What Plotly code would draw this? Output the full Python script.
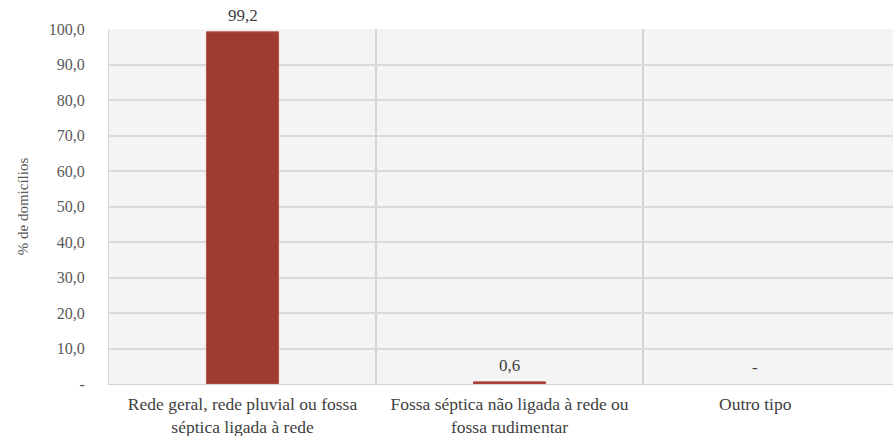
import plotly.graph_objects as go

categories = ["Rede geral, rede pluvial ou fossa<br>séptica ligada à rede",
              "Fossa séptica não ligada à rede ou<br>fossa rudimentar",
              "Outro tipo"]
values = [99.2, 0.6, 0.0]
value_labels = ["99,2", "0,6", "-"]
y_ticks = [0, 10, 20, 30, 40, 50, 60, 70, 80, 90, 100]
y_tick_labels = ["-", "10,0", "20,0", "30,0", "40,0", "50,0", "60,0", "70,0", "80,0", "90,0", "100,0"]
y_title = "% de domicílios"

FONT = "Times New Roman, Liberation Serif, DejaVu Serif, serif"
x_pos = [0, 1, 2]
label_pos = [0, 1, 1.92]

fig = go.Figure()
fig.add_trace(go.Bar(
    x=x_pos[:2], y=values[:2], width=0.27,
    marker=dict(color="#9f3b31", line=dict(color="#b5524a", width=1)),
    hoverinfo="skip",
))
for xp, v, lab in zip(label_pos, values, value_labels):
    fig.add_annotation(x=xp, y=v, text=lab, showarrow=False,
                       yanchor="bottom", yshift=5,
                       font=dict(family=FONT, size=17, color="#404040"))

fig.update_layout(
    width=893, height=436,
    margin=dict(l=109, r=0, t=29, b=52, autoexpand=False),
    paper_bgcolor="white",
    plot_bgcolor="#f4f4f4",
    showlegend=False,
    font=dict(family=FONT, size=16, color="#595959"),
)
fig.update_xaxes(
    range=[-0.5, 2.436], automargin=False,
    tickvals=label_pos, ticktext=categories,
    showgrid=False, zeroline=False,
    showline=True, linecolor="#d4d4d4", linewidth=1,
    ticks="", ticklen=0, ticklabelstandoff=4,
    tickfont=dict(family=FONT, size=17.5, color="#404040"),
    minor=dict(tick0=0.5, dtick=1, showgrid=True, gridcolor="#d4d4d4", gridwidth=1.5),
)
fig.update_yaxes(
    range=[0, 100], automargin=False,
    tickvals=y_ticks, ticktext=y_tick_labels,
    showgrid=True, gridcolor="#dadada", gridwidth=1.5,
    zeroline=False, showline=True, linecolor="#d4d4d4", linewidth=1,
    ticks="", ticklabelstandoff=20,
    tickfont=dict(family=FONT, size=16, color="#595959"),
    title=dict(text=y_title, font=dict(family=FONT, size=15, color="#595959"), standoff=16),
)

fig.write_html("out.html", config={"displayModeBar": False},
               post_script="document.body.style.margin='0';document.body.style.overflow='hidden';")
